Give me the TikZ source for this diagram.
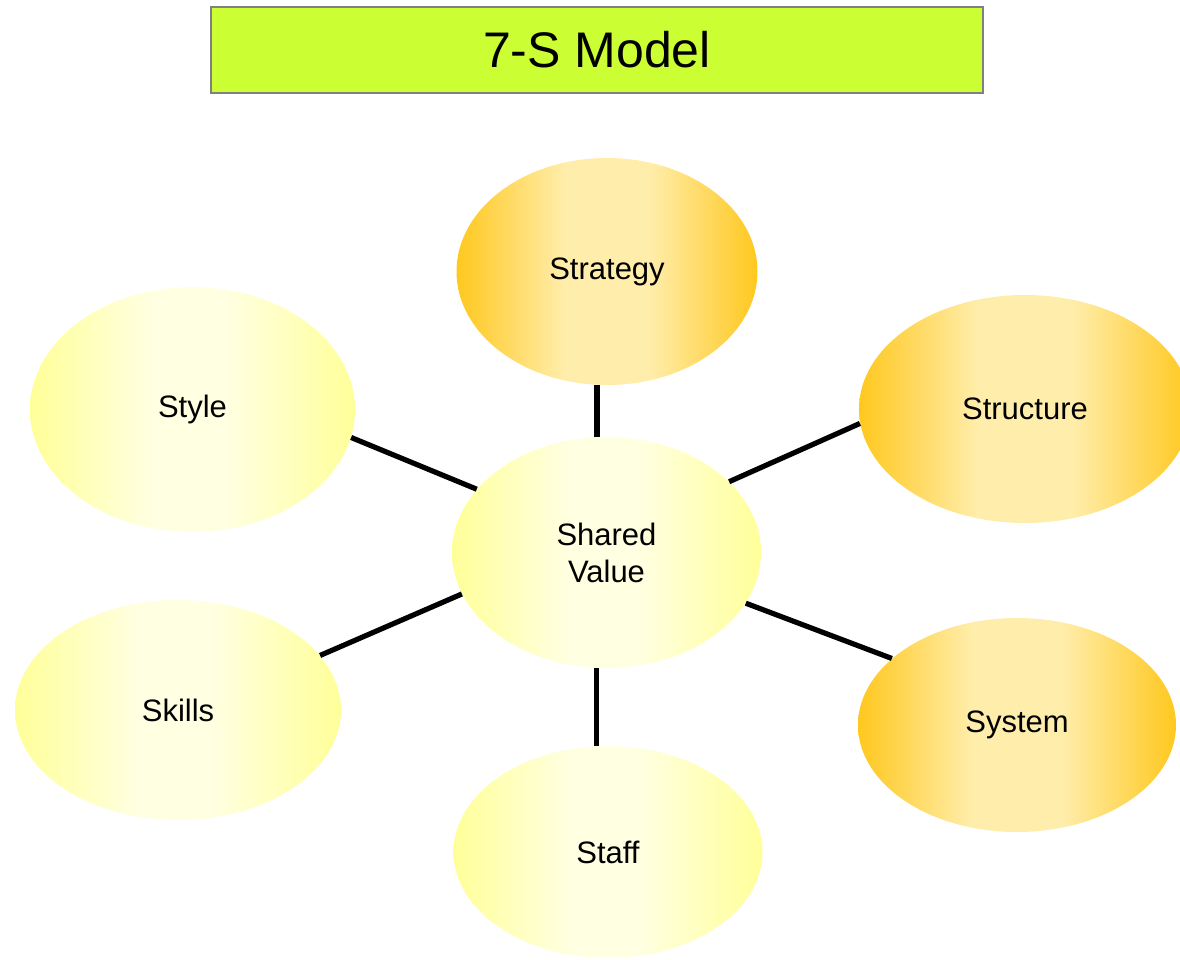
\documentclass[tikz,border=0pt]{standalone}
\usepackage{fontspec}
\setmainfont{Liberation Sans}
\usetikzlibrary{shapes.geometric}
\definecolor{limebar}{HTML}{CCFF33}
\definecolor{hardedge}{HTML}{FFC81E}
\definecolor{hardmid}{HTML}{FFEDAB}
\definecolor{softedge}{HTML}{FFFF99}
\definecolor{softmid}{HTML}{FFFFE2}
\pgfdeclarehorizontalshading{hardfill}{100bp}{color(0bp)=(hardedge); color(25bp)=(hardedge);
    color(43bp)=(hardmid); color(57bp)=(hardmid); color(75bp)=(hardedge); color(100bp)=(hardedge)}
\pgfdeclarehorizontalshading{softfill}{100bp}{color(0bp)=(softedge); color(25bp)=(softedge);
    color(44bp)=(softmid); color(55bp)=(softmid); color(75bp)=(softedge); color(100bp)=(softedge)}
\tikzset{
    sbase/.style={ellipse, inner sep=0pt, font=\fontsize{15.5}{18.5}\selectfont, align=center},
    hardS/.style={sbase, shade, shading=hardfill},
    softS/.style={sbase, shade, shading=softfill},
    link/.style={line width=2.6pt, black}
}

\begin{document}
\begin{tikzpicture}[x=0.5pt, y=-0.5pt]
    \useasboundingbox (0, 0) rectangle (1180, 960);

    \node[draw=gray, line width=0.8pt, fill=limebar, minimum width=386pt, minimum height=43pt,
          font=\fontsize{25}{30}\selectfont] (title) at (597, 50) {7-S Model};

    % hard S's
    \node[hardS, minimum width=150.5pt, minimum height=113.5pt] (strategy) at (607, 271.5) {Strategy};
    \node[hardS, minimum width=166pt, minimum height=114pt] (structure) at (1025, 409) {Structure};
    \node[hardS, minimum width=159pt, minimum height=107pt] (system) at (1017, 725) {System};

    % soft S's
    \node[softS, minimum width=154.5pt, minimum height=115.5pt] (shared) at (606.5, 552.5) {Shared\\Value};
    \node[softS, minimum width=162.5pt, minimum height=122.5pt] (style) at (192.5, 409.5) {Style};
    \node[softS, minimum width=163pt, minimum height=110pt] (skills) at (178, 710) {Skills};
    \node[softS, minimum width=154.5pt, minimum height=106pt] (staff) at (608, 852) {Staff};

    \draw[link] (strategy.265.5) -- (strategy.265.5 |- shared.north);
    \draw[link] (structure.185.5) -- (shared.30);
    \draw[link] (system.152.7) -- (shared.340.7);
    \draw[link] (shared.265.8) -- (shared.265.8 |- staff.north);
    \draw[link] (skills.21.2) -- (shared.196.4);
    \draw[link] (style.350) -- (shared.154.2);
\end{tikzpicture}
\end{document}
